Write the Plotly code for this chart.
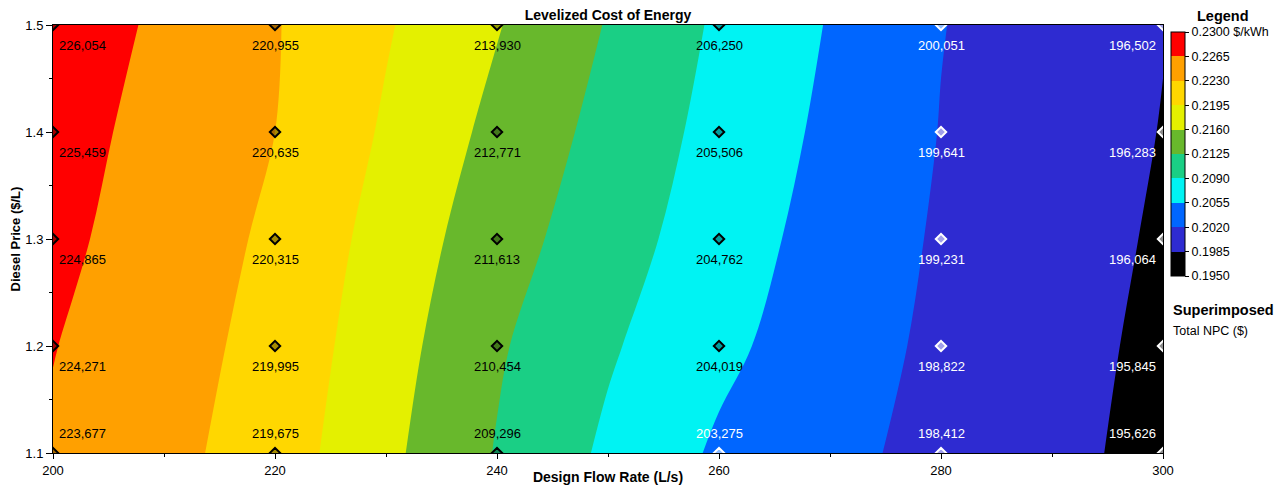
import plotly.graph_objects as go

FONT = "Liberation Sans, Arial, sans-serif"

# ---- data ----
flow_rate = [200, 210, 220, 230, 240, 250, 260, 270, 280, 290, 300]   # L/s
diesel_price = [1.1, 1.2, 1.3, 1.4, 1.5]                               # $/L

# Levelized cost of energy ($/kWh) estimated from the band boundaries
lcoe_p11 = [0.2261, 0.2240, 0.2213, 0.2168, 0.2123, 0.2084, 0.2050, 0.2029, 0.2010, 0.1993, 0.1976]
lcoe_p12 = [0.2266, 0.2245, 0.2218, 0.2175, 0.2129, 0.2094, 0.2063, 0.2036, 0.2013, 0.1996, 0.1978]
lcoe_p13 = [0.2273, 0.2249, 0.2224, 0.2182, 0.2140, 0.2105, 0.2072, 0.2042, 0.2016, 0.1999, 0.1981]
lcoe_p14 = [0.2278, 0.2254, 0.2230, 0.2191, 0.2151, 0.2114, 0.2079, 0.2048, 0.2019, 0.2001, 0.1984]
lcoe_p15 = [0.2285, 0.2259, 0.2232, 0.2198, 0.2162, 0.2123, 0.2085, 0.2053, 0.2021, 0.2003, 0.1986]
lcoe = [lcoe_p11, lcoe_p12, lcoe_p13, lcoe_p14, lcoe_p15]

# Superimposed total NPC ($) at the sensitivity cases
npc_flow = [200, 220, 240, 260, 280, 300]
npc_p11 = [223677, 219675, 209296, 203275, 198412, 195626]
npc_p12 = [224271, 219995, 210454, 204019, 198822, 195845]
npc_p13 = [224865, 220315, 211613, 204762, 199231, 196064]
npc_p14 = [225459, 220635, 212771, 205506, 199641, 196283]
npc_p15 = [226054, 220955, 213930, 206250, 200051, 196502]
npc = [npc_p11, npc_p12, npc_p13, npc_p14, npc_p15]

levels = [0.1950, 0.1985, 0.2020, 0.2055, 0.2090, 0.2125, 0.2160, 0.2195, 0.2230, 0.2265, 0.2300]
band_colors = ["#000000", "#2e2bd1", "#0066ff", "#00f3f3", "#1acf85",
               "#68b82c", "#e4f000", "#ffd700", "#ffa000", "#ff0000"]

step = levels[1] - levels[0]

# contour fill colorscale (plotly maps fill bands over [start-size, end])
n = len(band_colors) + 1
contour_scale = []
for j in range(n):
    c = band_colors[max(j - 1, 0)]
    contour_scale.append([j / n, c])
    contour_scale.append([(j + 1) / n, c])

# colorbar colorscale: one step per band
m = len(band_colors)
cb_scale = []
for j in range(m):
    cb_scale.append([j / m, band_colors[j]])
    cb_scale.append([(j + 1) / m, band_colors[j]])

# ---- geometry: page body has an 8px margin, so figure coords = screen - 8 ----
OFF = 8
W, H = 1287 - 2 * OFF, 493 - 2 * OFF
PX0, PX1, PY0, PY1 = 53 - OFF, 1163 - OFF, 25 - OFF, 453 - OFF   # plot area in figure px
L, T = PX0, PY0
R, B = W - PX1, H - PY1
pw, ph = PX1 - PX0, PY1 - PY0

def px_x(sx):   # screen x -> paper x
    return (sx - OFF - PX0) / pw

def px_y(sy):   # screen y -> paper y
    return (PY1 - (sy - OFF)) / ph

fig = go.Figure()
fig.add_trace(go.Contour(
    x=flow_rate, y=diesel_price, z=lcoe,
    autocontour=False,
    contours=dict(start=levels[0], end=levels[-1], size=step,
                  coloring="fill", showlines=False),
    line=dict(width=0),
    colorscale=contour_scale,
    showscale=False,
    hoverinfo="skip",
))

fig.add_trace(go.Scatter(
    x=[flow_rate[0], flow_rate[0]], y=[diesel_price[0], diesel_price[0]],
    mode="markers", hoverinfo="skip", showlegend=False,
    marker=dict(size=1, opacity=0, color=[levels[0], levels[-1]],
                cmin=levels[0], cmax=levels[-1], colorscale=cb_scale,
                showscale=True,
                colorbar=dict(
                    x=px_x(1171), xanchor="left", xpad=0,
                    y=px_y(32), yanchor="top", ypad=0,
                    lenmode="pixels", len=244, thickness=14,
                    outlinecolor="black", outlinewidth=1,
                    tickvals=levels,
                    ticktext=[f"{v:.4f}" + (" $/kWh" if i == len(levels) - 1 else "")
                              for i, v in enumerate(levels)],
                    ticks="outside", ticklen=4, tickcolor="black",
                    tickfont=dict(family=FONT, size=12.5, color="black"),
                ))))

# markers and NPC labels at the sensitivity cases
def lcoe_at(xv, yi):
    return lcoe[yi][flow_rate.index(xv)]

mx, my, mfill, mline = [], [], [], []
annotations = []
for yi, yv in enumerate(diesel_price):
    for xi, xv in enumerate(npc_flow):
        dark = lcoe_at(xv, yi) < levels[3]
        mx.append(xv)
        my.append(yv)
        mfill.append("rgba(255,255,255,0.55)" if dark else "rgba(0,0,0,0.35)")
        mline.append("white" if dark else "black")
        if xv == npc_flow[0]:
            xa, xs = "left", 4
        elif xv == npc_flow[-1]:
            xa, xs = "right", -5
        else:
            xa, xs = "center", 0
        ys = 20 if yv == diesel_price[0] else -20
        annotations.append(dict(
            x=xv, y=yv, xref="x", yref="y", text=f"{npc[yi][xi]:,}",
            showarrow=False, xanchor=xa, yanchor="middle", xshift=xs, yshift=ys,
            font=dict(family=FONT, size=13, color="white" if dark else "black")))

fig.add_trace(go.Scatter(
    x=mx, y=my, mode="markers", hoverinfo="skip", showlegend=False,
    cliponaxis=True,
    marker=dict(symbol="diamond", size=8, color=mfill,
                line=dict(color=mline, width=2)),
))

annotations += [
    dict(text="<b>Legend</b>", xref="paper", yref="paper",
         x=px_x(1223), y=px_y(16), xanchor="center", yanchor="middle",
         showarrow=False, font=dict(family=FONT, size=14.5, color="black")),
    dict(text="<b>Superimposed</b>", xref="paper", yref="paper",
         x=px_x(1171), y=px_y(310), xanchor="left", yanchor="middle",
         showarrow=False, font=dict(family=FONT, size=14.5, color="black")),
    dict(text="Total NPC ($)", xref="paper", yref="paper",
         x=px_x(1171), y=px_y(331), xanchor="left", yanchor="middle",
         showarrow=False, font=dict(family=FONT, size=12.5, color="black")),
]

fig.update_layout(
    width=W, height=H,
    margin=dict(l=L, r=R, t=T, b=B, autoexpand=False),
    paper_bgcolor="white", plot_bgcolor="white",
    font=dict(family=FONT, size=13, color="black"),
    title=dict(text="<b>Levelized Cost of Energy</b>", x=0.5, xref="paper",
               y=1 - (15 - OFF) / H, yref="container", yanchor="middle",
               font=dict(family=FONT, size=14, color="black")),
    xaxis=dict(range=[flow_rate[0], flow_rate[-1]], tickvals=npc_flow,
               automargin=False,
               ticks="outside", ticklen=5, tickcolor="black",
               minor=dict(dtick=10, ticks="outside", ticklen=3, tickcolor="black"),
               showline=True, linecolor="black", linewidth=1, mirror=True,
               showgrid=False, zeroline=False,
               tickfont=dict(family=FONT, size=13),
               title=dict(text="<b>Design Flow Rate (L/s)</b>", standoff=0,
                          font=dict(family=FONT, size=14))),
    yaxis=dict(range=[diesel_price[0], diesel_price[-1]], tickvals=diesel_price,
               automargin=False,
               ticks="outside", ticklen=6, tickcolor="black",
               minor=dict(dtick=0.05, ticks="outside", ticklen=3, tickcolor="black"),
               showline=True, linecolor="black", linewidth=1, mirror=True,
               showgrid=False, zeroline=False,
               tickfont=dict(family=FONT, size=13),
               title=dict(text="<b>Diesel Price ($/L)</b>", standoff=3,
                          font=dict(family=FONT, size=13))),
    annotations=annotations,
)

fig.write_html("out.html")
